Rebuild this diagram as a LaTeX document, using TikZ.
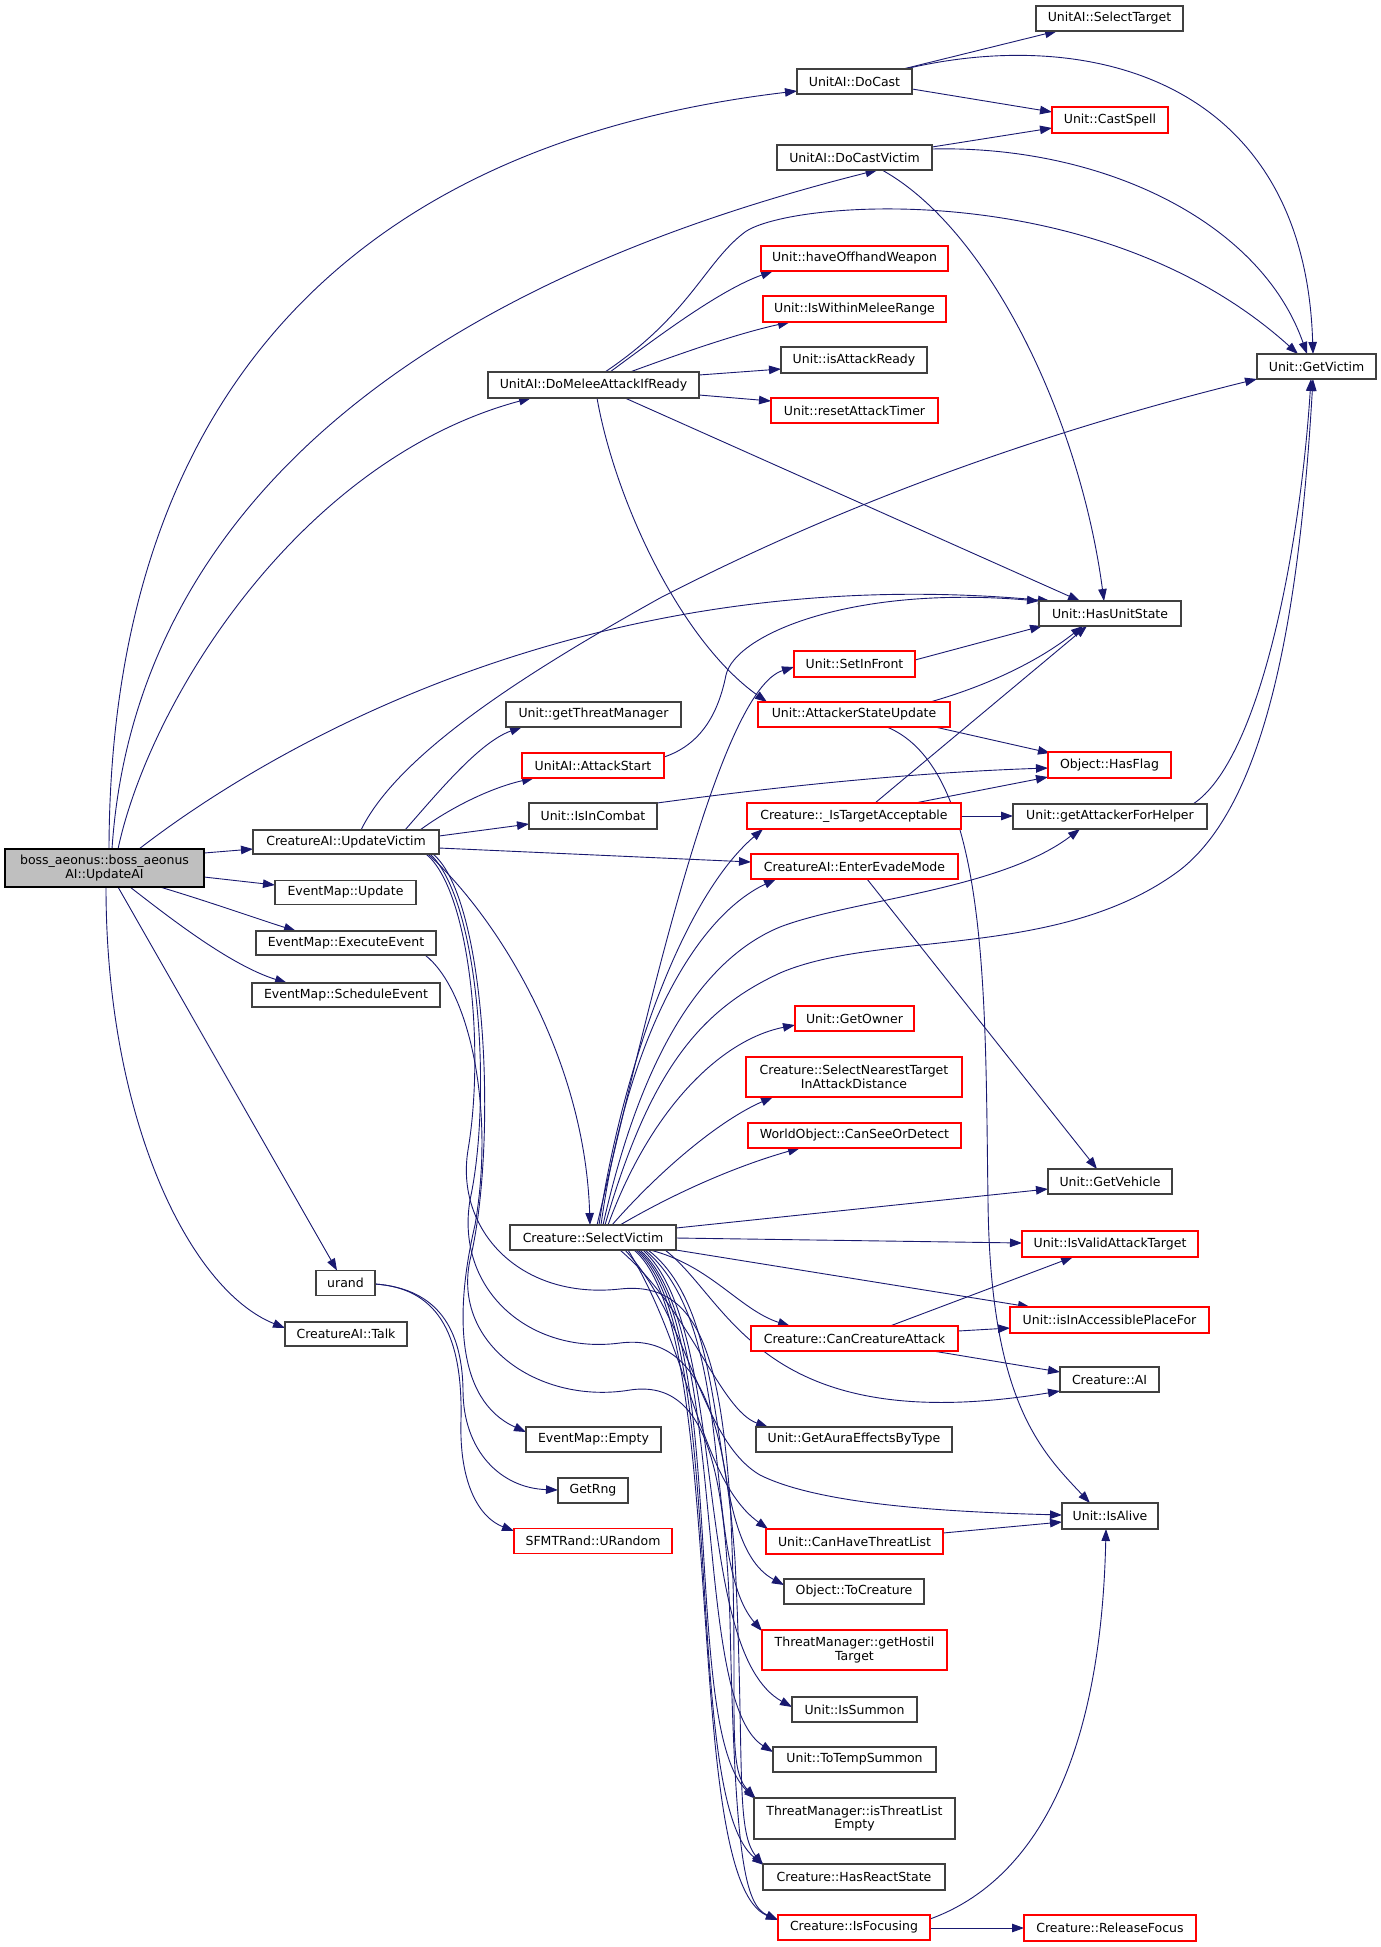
\documentclass[tikz,border=0pt]{standalone}
\usepackage{fontspec}
\setmainfont{DejaVu Sans}
\usetikzlibrary{arrows.meta}
\definecolor{edgec}{HTML}{191970}
\definecolor{bordc}{HTML}{404040}
\definecolor{bossc}{HTML}{BFBFBF}
\pgfdeclarelayer{bg}
\pgfsetlayers{bg,main}
\begin{document}
\begin{tikzpicture}[x=1pt,y=-1pt,
  nd/.style={draw=bordc, fill=white, line width=1.2pt, inner sep=0pt, font=\fontsize{12.5pt}{13.5pt}\selectfont, align=center},
  rd/.style={nd, draw=red},
  e/.style={draw=edgec, line width=0.9pt, -{Triangle[length=12pt,width=8.5pt]}},
]
\useasboundingbox (0,0) rectangle (1381,1947);
% ---------------- nodes ----------------
\node[nd,fill=bossc,draw=black,minimum width=199pt,minimum height=38pt] (boss) at (104.5,868) {boss\_aeonus::boss\_aeonus\\AI::UpdateAI};
\node[nd,minimum width=115pt,minimum height=25pt] (DoCast) at (854.5,81.5) {UnitAI::DoCast};
\node[nd,minimum width=155pt,minimum height=25pt] (DoCastVictim) at (854.5,157.5) {UnitAI::DoCastVictim};
\node[nd,minimum width=147pt,minimum height=25pt] (SelectTarget) at (1109.5,18.5) {UnitAI::SelectTarget};
\node[rd,minimum width=116pt,minimum height=26pt] (CastSpell) at (1110,120) {Unit::CastSpell};
\node[nd,minimum width=119pt,minimum height=25pt] (GetVictim) at (1316.5,366.5) {Unit::GetVictim};
\node[rd,minimum width=187pt,minimum height=25pt] (haveOffhand) at (854.5,258.5) {Unit::haveOffhandWeapon};
\node[rd,minimum width=183pt,minimum height=26pt] (IsWithinMelee) at (854.5,309) {Unit::IsWithinMeleeRange};
\node[nd,minimum width=146pt,minimum height=26pt] (isAttackReady) at (854,360) {Unit::isAttackReady};
\node[rd,minimum width=167pt,minimum height=25pt] (resetAttackTimer) at (854.5,410.5) {Unit::resetAttackTimer};
\node[nd,minimum width=211pt,minimum height=26pt] (DoMelee) at (593.5,385) {UnitAI::DoMeleeAttackIfReady};
\node[nd,minimum width=142pt,minimum height=25pt] (HasUnitState) at (1110,613.5) {Unit::HasUnitState};
\node[rd,minimum width=121pt,minimum height=26pt] (SetInFront) at (854.5,664) {Unit::SetInFront};
\node[rd,minimum width=192pt,minimum height=25pt] (AttackerStateUpdate) at (854,714.5) {Unit::AttackerStateUpdate};
\node[nd,minimum width=175pt,minimum height=25pt] (getThreatManager) at (593.5,714.5) {Unit::getThreatManager};
\node[rd,minimum width=142pt,minimum height=25pt] (AttackStart) at (593,765.5) {UnitAI::AttackStart};
\node[nd,minimum width=128pt,minimum height=26pt] (IsInCombat) at (593,816) {Unit::IsInCombat};
\node[rd,minimum width=123pt,minimum height=26pt] (HasFlag) at (1109.5,765) {Object::HasFlag};
\node[rd,minimum width=214pt,minimum height=26pt] (IsTargetAcceptable) at (854,816) {Creature::\_IsTargetAcceptable};
\node[nd,minimum width=194pt,minimum height=25pt] (getAttackerForHelper) at (1110,816.5) {Unit::getAttackerForHelper};
\node[nd,minimum width=186pt,minimum height=24pt] (UpdateVictim) at (346,842) {CreatureAI::UpdateVictim};
\node[rd,minimum width=207pt,minimum height=25pt] (EnterEvadeMode) at (854.5,866.5) {CreatureAI::EnterEvadeMode};
\node[nd,minimum width=141pt,minimum height=24pt] (EMUpdate) at (345.5,892.5) {EventMap::Update};
\node[nd,minimum width=180pt,minimum height=24pt] (ExecuteEvent) at (346,943) {EventMap::ExecuteEvent};
\node[nd,minimum width=188pt,minimum height=24pt] (ScheduleEvent) at (346,995) {EventMap::ScheduleEvent};
\node[rd,minimum width=119pt,minimum height=25pt] (GetOwner) at (854.5,1018.5) {Unit::GetOwner};
\node[rd,minimum width=216pt,minimum height=40pt] (SelectNearest) at (854,1077) {Creature::SelectNearestTarget\\InAttackDistance};
\node[rd,minimum width=213pt,minimum height=25pt] (CanSeeOrDetect) at (854.5,1135.5) {WorldObject::CanSeeOrDetect};
\node[nd,minimum width=124pt,minimum height=25pt] (GetVehicle) at (1110,1181.5) {Unit::GetVehicle};
\node[nd,minimum width=166pt,minimum height=25pt] (SelectVictim) at (593,1237.5) {Creature::SelectVictim};
\node[rd,minimum width=176pt,minimum height=26pt] (IsValidAttackTarget) at (1110,1244) {Unit::IsValidAttackTarget};
\node[nd,minimum width=59pt,minimum height=25pt] (urand) at (345.5,1283) {urand};
\node[nd,minimum width=122pt,minimum height=24pt] (Talk) at (346,1334) {CreatureAI::Talk};
\node[rd,minimum width=199pt,minimum height=26pt] (isInAccessible) at (1109.5,1320) {Unit::isInAccessiblePlaceFor};
\node[rd,minimum width=207pt,minimum height=25pt] (CanCreatureAttack) at (854.5,1338.5) {Creature::CanCreatureAttack};
\node[nd,minimum width=99pt,minimum height=25pt] (AI) at (1109.5,1379.5) {Creature::AI};
\node[nd,minimum width=135pt,minimum height=25pt] (EMEmpty) at (593.5,1439.5) {EventMap::Empty};
\node[nd,minimum width=196pt,minimum height=25pt] (GetAuraEffectsByType) at (854,1439.5) {Unit::GetAuraEffectsByType};
\node[nd,minimum width=70pt,minimum height=25pt] (GetRng) at (593,1490.5) {GetRng};
\node[nd,minimum width=96pt,minimum height=26pt] (IsAlive) at (1110,1516) {Unit::IsAlive};
\node[rd,minimum width=158pt,minimum height=25pt] (URandom) at (593,1541) {SFMTRand::URandom};
\node[rd,minimum width=177pt,minimum height=25pt] (CanHaveThreatList) at (854.5,1541.5) {Unit::CanHaveThreatList};
\node[nd,minimum width=140pt,minimum height=25pt] (ToCreature) at (854,1591.5) {Object::ToCreature};
\node[rd,minimum width=185pt,minimum height=40pt] (getHostilTarget) at (854.5,1650) {ThreatManager::getHostil\\Target};
\node[nd,minimum width=125pt,minimum height=25pt] (IsSummon) at (854.5,1709.5) {Unit::IsSummon};
\node[nd,minimum width=163pt,minimum height=25pt] (ToTempSummon) at (854.5,1759.5) {Unit::ToTempSummon};
\node[nd,minimum width=201pt,minimum height=41pt] (isThreatListEmpty) at (854.5,1818.5) {ThreatManager::isThreatList\\Empty};
\node[nd,minimum width=182pt,minimum height=26pt] (HasReactState) at (854,1877) {Creature::HasReactState};
\node[rd,minimum width=152pt,minimum height=25pt] (IsFocusing) at (854,1927.5) {Creature::IsFocusing};
\node[rd,minimum width=172pt,minimum height=26pt] (ReleaseFocus) at (1110,1928) {Creature::ReleaseFocus};
% ---------------- edges ----------------
\begin{pgfonlayer}{bg}
\fill[white] (0,0) rectangle (1381,1947);
% boss
\draw[e] ([shift={(4.5,-19)}]boss.center) .. controls (110,450) and (300,150) .. ([shift={(-57.5,9.5)}]DoCast.center);
\draw[e] ([shift={(7.5,-19)}]boss.center) .. controls (125,650) and (240,330) .. ([shift={(23,12.5)}]DoCastVictim.center);
\draw[e] ([shift={(13.5,-19)}]boss.center) .. controls (150,700) and (300,460) .. ([shift={(-62.5,13)}]DoMelee.center);
\draw[e] ([shift={(34.5,-19)}]boss.center) .. controls (280,740) and (600,560) .. ([shift={(-60,-12.5)}]HasUnitState.center);
\draw[e] ([shift={(99.5,-15)}]boss.center) -- ([shift={(-93,7)}]UpdateVictim.center);
\draw[e] ([shift={(99.5,9)}]boss.center) -- ([shift={(-70.5,-7.5)}]EMUpdate.center);
\draw[e] ([shift={(55.5,19)}]boss.center) .. controls (210,902) and (255,918) .. ([shift={(-50,-12)}]ExecuteEvent.center);
\draw[e] ([shift={(25.5,19)}]boss.center) .. controls (170,918) and (230,965) .. ([shift={(-59,-12)}]ScheduleEvent.center);
\draw[e] ([shift={(13.5,19)}]boss.center) -- ([shift={(-8.5,-12.5)}]urand.center);
\draw[e] ([shift={(1.5,19)}]boss.center) .. controls (106,1120) and (190,1290) .. ([shift={(-61,-6)}]Talk.center);
% DoCast
\draw[e] ([shift={(48.5,-12.5)}]DoCast.center) -- ([shift={(-52.5,12.5)}]SelectTarget.center);
\draw[e] ([shift={(57.5,7.5)}]DoCast.center) -- ([shift={(-58,-8)}]CastSpell.center);
\draw[e] ([shift={(50.5,-12.5)}]DoCast.center) .. controls (1090,25) and (1305,80) .. ([shift={(-3.5,-12.5)}]GetVictim.center);
% DoCastVictim
\draw[e] ([shift={(77.5,-10.5)}]DoCastVictim.center) -- ([shift={(-58,8)}]CastSpell.center);
\draw[e] ([shift={(77.5,-8.5)}]DoCastVictim.center) .. controls (1100,145) and (1260,220) .. ([shift={(-9.5,-12.5)}]GetVictim.center);
\draw[e] ([shift={(27.5,12.5)}]DoCastVictim.center) .. controls (990,230) and (1080,420) .. ([shift={(-6,-12.5)}]HasUnitState.center);
% DoMelee
\draw[e] ([shift={(16.5,-13)}]DoMelee.center) .. controls (660,335) and (720,290) .. ([shift={(-81.5,12.5)}]haveOffhand.center);
\draw[e] ([shift={(36.5,-13)}]DoMelee.center) .. controls (690,350) and (740,333) .. ([shift={(-64.5,13)}]IsWithinMelee.center);
\draw[e] ([shift={(105.5,-10)}]DoMelee.center) -- ([shift={(-73,9)}]isAttackReady.center);
\draw[e] ([shift={(105.5,10)}]DoMelee.center) -- ([shift={(-83.5,-9.5)}]resetAttackTimer.center);
\draw[e] ([shift={(31.5,13)}]DoMelee.center) -- ([shift={(-30,-12.5)}]HasUnitState.center);
\draw[e] ([shift={(3.5,13)}]DoMelee.center) .. controls (615,500) and (680,640) .. ([shift={(-87,-12.5)}]AttackerStateUpdate.center);
\draw[e] ([shift={(11.5,-13)}]DoMelee.center) .. controls (690,315) and (705,262) .. (745,232) .. controls (790,200) and (1100,175) .. ([shift={(-18.5,-12.5)}]GetVictim.center);
% UpdateVictim
\draw[e] ([shift={(15,-12)}]UpdateVictim.center) .. controls (400,750) and (540,665) .. (660,598) .. controls (850,500) and (1050,430) .. ([shift={(-59.5,12.5)}]GetVictim.center);
\draw[e] ([shift={(59,-12)}]UpdateVictim.center) .. controls (440,790) and (480,742) .. ([shift={(-71.5,12.5)}]getThreatManager.center);
\draw[e] ([shift={(74,-12)}]UpdateVictim.center) .. controls (450,808) and (490,788) .. ([shift={(-59,12.5)}]AttackStart.center);
\draw[e] ([shift={(93,-6)}]UpdateVictim.center) -- ([shift={(-64,8)}]IsInCombat.center);
\draw[e] ([shift={(93,6)}]UpdateVictim.center) -- ([shift={(-103.5,-4.5)}]EnterEvadeMode.center);
\draw[e] ([shift={(82,12)}]UpdateVictim.center) .. controls (500,920) and (585,1060) .. ([shift={(-3,-12.5)}]SelectVictim.center);
\draw[e] ([shift={(80,12)}]UpdateVictim.center) .. controls (470,890) and (485,1050) .. (468,1150) .. controls (455,1230) and (520,1300) .. (620,1289) .. controls (700,1280) and (720,1360) .. (730,1500) .. controls (740,1700) and (725,1765) .. ([shift={(-99.5,-20.5)}]isThreatListEmpty.center);
\draw[e] ([shift={(84,12)}]UpdateVictim.center) .. controls (480,900) and (492,1100) .. (470,1200) .. controls (455,1290) and (530,1355) .. (620,1343) .. controls (700,1333) and (725,1420) .. (735,1560) .. controls (745,1760) and (735,1830) .. ([shift={(-91,-12)}]HasReactState.center);
\draw[e] ([shift={(87,12)}]UpdateVictim.center) .. controls (488,900) and (497,1150) .. (470,1260) .. controls (452,1345) and (540,1405) .. (630,1390) .. controls (710,1378) and (725,1480) .. (730,1620) .. controls (735,1860) and (745,1905) .. ([shift={(-76,-7.5)}]IsFocusing.center);
% ExecuteEvent, urand
\draw[e] ([shift={(79,12)}]ExecuteEvent.center) .. controls (470,990) and (495,1110) .. (475,1225) .. controls (455,1310) and (455,1400) .. ([shift={(-67.5,-7.5)}]EMEmpty.center);
\draw[e] ([shift={(29.5,1)}]urand.center) .. controls (430,1288) and (462,1320) .. (463,1390) .. controls (463,1450) and (500,1488) .. ([shift={(-35,-0.5)}]GetRng.center);
\draw[e] ([shift={(29.5,1)}]urand.center) .. controls (435,1288) and (463,1330) .. (461,1420) .. controls (459,1485) and (480,1518) .. ([shift={(-79,-10)}]URandom.center);
% SelectVictim
\draw[e] ([shift={(4,-12.5)}]SelectVictim.center) .. controls (650,1000) and (720,690) .. ([shift={(-60.5,3)}]SetInFront.center);
\draw[e] ([shift={(6,-12.5)}]SelectVictim.center) .. controls (620,1080) and (680,900) .. ([shift={(-91,13)}]IsTargetAcceptable.center);
\draw[e] ([shift={(8,-12.5)}]SelectVictim.center) .. controls (625,1050) and (690,920) .. ([shift={(-78.5,12.5)}]EnterEvadeMode.center);
\draw[e] ([shift={(10,-12.5)}]SelectVictim.center) .. controls (640,1060) and (700,960) .. (780,927) .. controls (850,900) and (1000,890) .. ([shift={(-30,12.5)}]getAttackerForHelper.center);
\draw[e] ([shift={(12,-12.5)}]SelectVictim.center) .. controls (650,1070) and (700,1010) .. (780,973) .. controls (880,930) and (1060,960) .. (1180,870) .. controls (1270,800) and (1300,600) .. ([shift={(-3.5,12.5)}]GetVictim.center);
\draw[e] ([shift={(15,-12.5)}]SelectVictim.center) .. controls (650,1110) and (720,1040) .. ([shift={(-59.5,6.5)}]GetOwner.center);
\draw[e] ([shift={(19,-12.5)}]SelectVictim.center) .. controls (660,1170) and (720,1120) .. ([shift={(-81,20)}]SelectNearest.center);
\draw[e] ([shift={(27,-12.5)}]SelectVictim.center) .. controls (680,1190) and (740,1165) .. ([shift={(-54.5,12.5)}]CanSeeOrDetect.center);
\draw[e] ([shift={(83,-9.5)}]SelectVictim.center) -- ([shift={(-62,7.5)}]GetVehicle.center);
\draw[e] ([shift={(83,0.5)}]SelectVictim.center) -- ([shift={(-88,-1)}]IsValidAttackTarget.center);
\draw[e] ([shift={(83,12.5)}]SelectVictim.center) -- ([shift={(-79.5,-13)}]isInAccessible.center);
\draw[e] ([shift={(57,12.5)}]SelectVictim.center) .. controls (710,1265) and (740,1310) .. ([shift={(-64.5,-12.5)}]CanCreatureAttack.center);
\draw[e] ([shift={(72,12.5)}]SelectVictim.center) .. controls (730,1300) and (760,1440) .. ([shift={(-49.5,11.5)}]AI.center);
\draw[e] ([shift={(27,12.5)}]SelectVictim.center) .. controls (690,1310) and (720,1410) .. ([shift={(-86,-12.5)}]GetAuraEffectsByType.center);
\draw[e] ([shift={(32,12.5)}]SelectVictim.center) .. controls (690,1320) and (700,1440) .. (760,1475) .. controls (820,1505) and (950,1512) .. ([shift={(-48,-1)}]IsAlive.center);
\draw[e] ([shift={(35,12.5)}]SelectVictim.center) .. controls (690,1350) and (700,1480) .. ([shift={(-86.5,-12.5)}]CanHaveThreatList.center);
\draw[e] ([shift={(55,12.5)}]SelectVictim.center) .. controls (740,1320) and (700,1540) .. ([shift={(-70,-6.5)}]ToCreature.center);
\draw[e] ([shift={(52,12.5)}]SelectVictim.center) .. controls (740,1330) and (700,1560) .. ([shift={(-92.5,-19)}]getHostilTarget.center);
\draw[e] ([shift={(50,12.5)}]SelectVictim.center) .. controls (730,1330) and (690,1650) .. ([shift={(-62.5,-2.5)}]IsSummon.center);
\draw[e] ([shift={(47,12.5)}]SelectVictim.center) .. controls (730,1330) and (690,1700) .. ([shift={(-81.5,-7.5)}]ToTempSummon.center);
\draw[e] ([shift={(45,12.5)}]SelectVictim.center) .. controls (730,1330) and (680,1730) .. ([shift={(-98.5,-19.5)}]isThreatListEmpty.center);
\draw[e] ([shift={(43,12.5)}]SelectVictim.center) .. controls (730,1330) and (680,1800) .. ([shift={(-90,-12)}]HasReactState.center);
\draw[e] ([shift={(41,12.5)}]SelectVictim.center) .. controls (730,1330) and (680,1880) .. ([shift={(-76,-7.5)}]IsFocusing.center);
% others
\draw[e] ([shift={(71,-8.5)}]AttackStart.center) .. controls (700,745) and (718,715) .. (726,675) .. controls (735,635) and (850,585) .. ([shift={(-71,-12.5)}]HasUnitState.center);
\draw[e] ([shift={(60.5,-4)}]SetInFront.center) -- ([shift={(-68,12.5)}]HasUnitState.center);
\draw[e] ([shift={(76,-12.5)}]AttackerStateUpdate.center) .. controls (990,685) and (1040,660) .. ([shift={(-27,12.5)}]HasUnitState.center);
\draw[e] ([shift={(81,12.5)}]AttackerStateUpdate.center) -- ([shift={(-59.5,-12)}]HasFlag.center);
\draw[e] ([shift={(33,12.5)}]AttackerStateUpdate.center) .. controls (990,770) and (985,1000) .. (988,1200) .. controls (990,1400) and (1040,1450) .. ([shift={(-20,-13)}]IsAlive.center);
\draw[e] ([shift={(21,-13)}]IsTargetAcceptable.center) -- ([shift={(-23,12.5)}]HasUnitState.center);
\draw[e] ([shift={(61,-13)}]IsTargetAcceptable.center) -- ([shift={(-61.5,12)}]HasFlag.center);
\draw[e] ([shift={(107,0)}]IsTargetAcceptable.center) -- ([shift={(-97,-0.5)}]getAttackerForHelper.center);
\draw[e] ([shift={(83,-12.5)}]getAttackerForHelper.center) .. controls (1260,760) and (1300,550) .. ([shift={(-5.5,12.5)}]GetVictim.center);
\draw[e] ([shift={(64,-13)}]IsInCombat.center) .. controls (760,789) and (900,773) .. ([shift={(-61.5,3)}]HasFlag.center);
\draw[e] ([shift={(12.5,12.5)}]EnterEvadeMode.center) -- ([shift={(-13,-12.5)}]GetVehicle.center);
\draw[e] ([shift={(35.5,-12.5)}]CanCreatureAttack.center) -- ([shift={(-37,13)}]IsValidAttackTarget.center);
\draw[e] ([shift={(103.5,-7.5)}]CanCreatureAttack.center) -- ([shift={(-99.5,8)}]isInAccessible.center);
\draw[e] ([shift={(78.5,12.5)}]CanCreatureAttack.center) -- ([shift={(-49.5,-7.5)}]AI.center);
\draw[e] ([shift={(88.5,-8.5)}]CanHaveThreatList.center) -- ([shift={(-48,6)}]IsAlive.center);
\draw[e] ([shift={(76,0.5)}]IsFocusing.center) -- ([shift={(-86,0)}]ReleaseFocus.center);
\draw[e] ([shift={(76,-8.5)}]IsFocusing.center) .. controls (1010,1890) and (1100,1800) .. ([shift={(-4,13)}]IsAlive.center);
\end{pgfonlayer}
\end{tikzpicture}
\end{document}
